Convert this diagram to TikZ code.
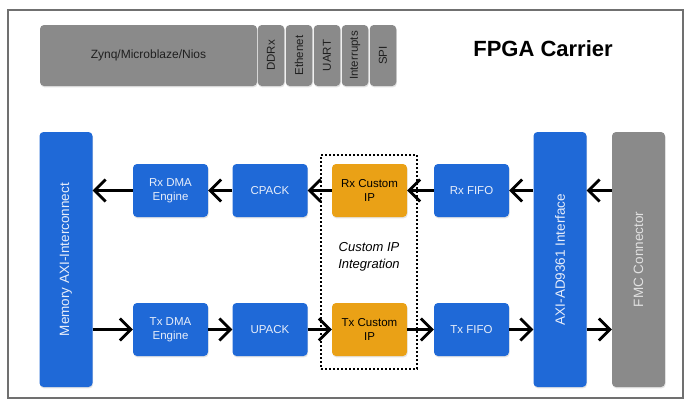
\documentclass[tikz,border=0pt]{standalone}
\usepackage{fontspec}
\setmainfont{Liberation Sans}
\usetikzlibrary{arrows.meta,shadows}

\definecolor{fpgablue}{RGB}{31,105,215}
\definecolor{fpgaorange}{RGB}{234,161,22}
\definecolor{fpgagrey}{RGB}{138,138,138}
\definecolor{framegrey}{RGB}{112,112,112}
\definecolor{bluetext}{RGB}{232,238,250}
\definecolor{fmctext}{RGB}{225,225,225}

\begin{document}
\begin{tikzpicture}[x=1pt, y=-1pt,
    every node/.style={inner sep=0pt, align=center, font=\fontsize{11.5}{14}\selectfont},
    block/.style={rectangle, rounded corners=4pt, minimum width=75pt, minimum height=53pt,
      drop shadow={opacity=0.22, shadow xshift=0.6pt, shadow yshift=-1.4pt}},
    blockblue/.style={block, fill=fpgablue, text=bluetext},
    blockip/.style={block, fill=fpgaorange, text=black},
    blockgrey/.style={block, fill=fpgagrey, text=black!88},
    bus/.style={minimum width=53pt, minimum height=255pt, font=\fontsize{13.5}{16}\selectfont},
    link/.style={line width=2.8pt, -{Straight Barb[length=11pt, width=22pt]}}]

  \useasboundingbox (0,0) rectangle (688,410);
  \draw[draw=framegrey, line width=1.8pt] (8,10) rectangle (683,398);

  % Processor bar
  \node[blockgrey, minimum width=217pt, minimum height=61pt, font=\fontsize{12}{14}\selectfont] (cpu) at (148.5,55.5) {Zynq/Microblaze/Nios};
  \foreach \x/\name/\txt in {271/ddr/DDRx, 299/eth/Ethenet, 327/uart/UART, 355/irq/Interrupts, 383/spi/SPI} {
    \node[blockgrey, minimum width=26.5pt, minimum height=61pt, font=\fontsize{11.5}{13}\selectfont] (\name) at (\x,55.5) {\rotatebox{90}{\txt}};
  }
  \node[font=\fontsize{22}{26}\selectfont\bfseries, anchor=base] (title) at (543,56) {FPGA Carrier};

  % Custom IP area
  \node[draw, line width=2pt, dash pattern=on 2pt off 2pt, minimum width=96pt, minimum height=214pt] (ipzone) at (369,262) {};
  \node[font=\fontsize{13}{17}\selectfont\itshape] (iplabel) at (369,257) {Custom IP\\Integration};

  % Buses
  \node[blockblue, bus] (mem) at (66,259.5) {\rotatebox{90}{Memory AXI-Interconnect}};
  \node[blockblue, bus] (axi) at (560,259.5) {\rotatebox{90}{AXI-AD9361 Interface}};
  \node[blockgrey, bus, text=fmctext] (fmc) at (638.5,259.5) {\rotatebox{90}{FMC Connector}};

  % Rx path
  \node[blockblue] (rxdma) at (170.5,190.5) {Rx DMA\\Engine};
  \node[blockblue] (cpack) at (270,190.5) {CPACK};
  \node[blockip] (rxip) at (369.5,190.5) {Rx Custom\\IP};
  \node[blockblue] (rxfifo) at (471.5,190.5) {Rx FIFO};

  % Tx path
  \node[blockblue] (txdma) at (170.5,329.5) {Tx DMA\\Engine};
  \node[blockblue] (upack) at (270,329.5) {UPACK};
  \node[blockip] (txip) at (369.5,329.5) {Tx Custom\\IP};
  \node[blockblue] (txfifo) at (471.5,329.5) {Tx FIFO};

  % Rx arrows
  \draw[link] (fmc.west |- rxfifo.east) -- (axi.east |- rxfifo.east);
  \draw[link] (axi.west |- rxfifo.east) -- (rxfifo.east);
  \foreach \a/\b in {rxfifo/rxip, rxip/cpack, cpack/rxdma} {
    \draw[link] (\a.west) -- (\b.east);
  }
  \draw[link] (rxdma.west) -- (rxdma.west -| mem.east);

  % Tx arrows
  \draw[link] (mem.east |- txdma.west) -- (txdma.west);
  \foreach \a/\b in {txdma/upack, upack/txip, txip/txfifo} {
    \draw[link] (\a.east) -- (\b.west);
  }
  \draw[link] (txfifo.east) -- (txfifo.east -| axi.west);
  \draw[link] (txfifo.east -| axi.east) -- (txfifo.east -| fmc.west);

\end{tikzpicture}
\end{document}
